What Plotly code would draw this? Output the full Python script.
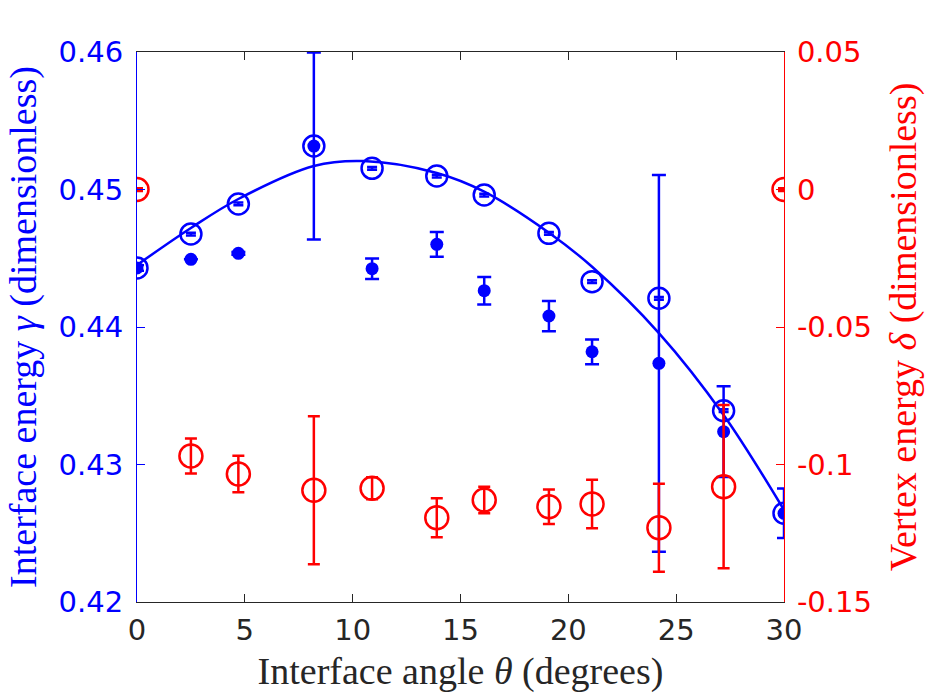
import plotly.graph_objects as go

theta = [0, 2.5, 4.7, 8.2, 10.9, 13.9, 16.1, 19.1, 21.1, 24.2, 27.2, 30]

gamma_open = [0.4443, 0.44676, 0.44895, 0.45316, 0.45154, 0.45098, 0.44960, 0.44681, 0.44330, 0.44209, 0.43391, 0.42645]
gamma_open_err = [0.0001] * 12

gamma_filled = [0.4443, 0.44492, 0.44536, 0.45316, 0.44424, 0.44601, 0.44264, 0.44080, 0.43820, 0.43736, 0.43239, 0.42645]
gamma_filled_err = [0.0002, 0.0, 0.0001, 0.0068, 0.00075, 0.0009, 0.0010, 0.0011, 0.0009, 0.0137, 0.0033, 0.0018]

delta = [0.0, -0.09691, -0.10345, -0.10938, -0.10865, -0.11934, -0.11291, -0.11535, -0.11436, -0.12298, -0.10807, 0.0]
delta_err = [0.0005, 0.0064, 0.0066, 0.0269, 0.0040, 0.0071, 0.0048, 0.0063, 0.0088, 0.0160, 0.0297, 0.0005]

fit_theta = [0, 2.5, 4.7, 8.2, 10.5, 13.9, 16.1, 19.1, 21.1, 24.2, 27.2, 30]
fit_gamma = [0.44451, 0.4472, 0.44931, 0.45171, 0.45207, 0.4512, 0.44984, 0.44686, 0.44438, 0.43956, 0.4336, 0.42669]

BLUE = "#0000ff"
RED = "#ff0000"
GRAY = "#262626"

fig = go.Figure()

fig.add_trace(go.Scatter(
    x=fit_theta, y=fit_gamma, mode="lines",
    line=dict(color=BLUE, width=2.5, shape="spline", smoothing=1.0),
    hoverinfo="skip", showlegend=False))

fig.add_trace(go.Scatter(
    x=theta, y=gamma_filled, mode="markers",
    marker=dict(color=BLUE, size=13, symbol="circle"),
    error_y=dict(type="data", array=gamma_filled_err, color=BLUE, thickness=2.5, width=7),
    showlegend=False))

fig.add_trace(go.Scatter(
    x=theta, y=gamma_open, mode="markers",
    marker=dict(color=BLUE, size=21, symbol="circle-open", line=dict(width=2.5)),
    error_y=dict(type="data", array=gamma_open_err, color=BLUE, thickness=2.5, width=5),
    showlegend=False))

fig.add_trace(go.Scatter(
    x=theta, y=delta, mode="markers", yaxis="y2",
    marker=dict(color=RED, size=23, symbol="circle-open", line=dict(width=2.5)),
    error_y=dict(type="data", array=delta_err, color=RED, thickness=2.5, width=6),
    showlegend=False))

TICK_SIZE = 29
TITLE_SIZE = 38

fig.update_layout(
    width=934, height=700,
    margin=dict(l=137, r=150, t=52, b=98),
    paper_bgcolor="white", plot_bgcolor="white",
    xaxis=dict(
        range=[0, 30], tickvals=[0, 5, 10, 15, 20, 25, 30],
        showline=True, linecolor=GRAY, linewidth=1.2, mirror="ticks",
        ticks="inside", ticklen=8, tickcolor=GRAY, tickwidth=1.2,
        showgrid=False, zeroline=False, ticklabelstandoff=2,
        tickfont=dict(family="DejaVu Sans", size=TICK_SIZE, color=GRAY),
        title=dict(text="Interface angle <i>θ</i> (degrees)",
                   font=dict(family="Liberation Serif", size=TITLE_SIZE, color=GRAY), standoff=11),
    ),
    yaxis=dict(
        range=[0.42, 0.46], tickvals=[0.42, 0.43, 0.44, 0.45, 0.46],
        ticktext=["0.42", "0.43", "0.44", "0.45", "0.46"],
        showline=True, linecolor=BLUE, linewidth=1.2,
        ticks="inside", ticklen=8, tickcolor=BLUE, tickwidth=1.2,
        showgrid=False, zeroline=False, ticklabelstandoff=7,
        tickfont=dict(family="DejaVu Sans", size=TICK_SIZE, color=BLUE),
        title=dict(text="Interface energy <i>γ</i> (dimensionless)",
                   font=dict(family="Liberation Serif", size=TITLE_SIZE, color=BLUE), standoff=10),
    ),
    yaxis2=dict(
        range=[-0.15, 0.05], tickvals=[-0.15, -0.1, -0.05, 0, 0.05],
        ticktext=["-0.15", "-0.1", "-0.05", "0", "0.05"],
        overlaying="y", side="right",
        showline=True, linecolor=RED, linewidth=1.2,
        ticks="inside", ticklen=8, tickcolor=RED, tickwidth=1.2,
        showgrid=False, zeroline=False, ticklabelstandoff=6,
        tickfont=dict(family="DejaVu Sans", size=TICK_SIZE, color=RED),
        title=dict(text="Vertex energy <i>δ</i> (dimensionless)",
                   font=dict(family="Liberation Serif", size=TITLE_SIZE, color=RED), standoff=18),
    ),
)

fig.write_html("out.html")
